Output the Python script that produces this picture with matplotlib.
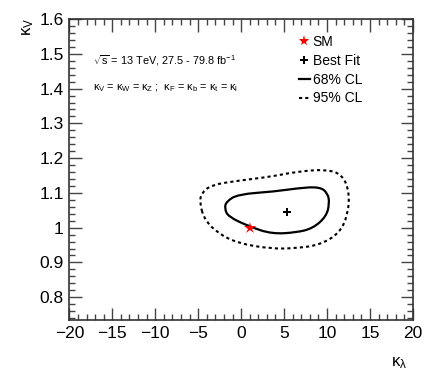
import matplotlib
matplotlib.use("Agg")
import matplotlib.pyplot as plt
from matplotlib.ticker import MultipleLocator
from matplotlib.lines import Line2D
from matplotlib.path import Path
from matplotlib.patches import PathPatch

plt.rcParams['font.family'] = ['Liberation Sans', 'DejaVu Sans']
plt.rcParams['mathtext.fontset'] = 'custom'
plt.rcParams['mathtext.rm'] = 'Liberation Sans'
plt.rcParams['mathtext.it'] = 'Liberation Sans'

# 68% CL contour (kappa_lambda, kappa_V)
cl68_kl = [-1.92, -1.72, -0.37, 3.90, 6.42, 9.13, 10.09, 10.29, 9.91, 8.35, 6.42, 3.55, 0.99, -1.53]
cl68_kv = [1.056, 1.075, 1.096, 1.104, 1.113, 1.118, 1.099, 1.070, 1.032, 0.998, 0.986, 0.982, 1.003, 1.032]

# 95% CL contour
cl95_kl = [-4.83, -4.63, -3.47, -0.37, 3.55, 6.42, 9.91, 11.84, 12.62, 12.42, 11.45, 9.13, 6.42, 3.55,
           -0.37, -2.70, -4.24]
cl95_kv = [1.070, 1.099, 1.123, 1.135, 1.147, 1.161, 1.168, 1.152, 1.099, 1.037, 0.984, 0.950, 0.941,
           0.939, 0.955, 0.984, 1.022]

sm = (1.0, 1.0)
best_fit = (5.4, 1.046)


def closed_curve(xs, ys):
    # smooth closed outline: the read points act as quadratic bezier control points
    pts = list(zip(xs, ys))
    n = len(pts)
    mids = [((pts[i][0] + pts[(i + 1) % n][0]) / 2, (pts[i][1] + pts[(i + 1) % n][1]) / 2) for i in range(n)]
    verts = [mids[-1]]
    codes = [Path.MOVETO]
    for i in range(n):
        verts += [pts[i], mids[i]]
        codes += [Path.CURVE3, Path.CURVE3]
    return Path(verts, codes)


fig = plt.figure(figsize=(4.36, 3.82), dpi=100)
ax = fig.add_axes([0.159, 0.162, 0.788, 0.788])

ax.add_patch(PathPatch(closed_curve(cl95_kl, cl95_kv), fill=False, color='black', lw=1.5, ls=(0, (1.5, 1.5))))
ax.add_patch(PathPatch(closed_curve(cl68_kl, cl68_kv), fill=False, color='black', lw=1.6))
ax.plot(best_fit[0], best_fit[1], marker='P', color='black', ms=6, mew=0)
ax.plot(sm[0], sm[1], marker='*', color='red', ms=9, mew=0)

ax.set_xlim(-20, 20)
ax.set_ylim(0.734, 1.6)
ax.xaxis.set_major_locator(MultipleLocator(5))
ax.xaxis.set_minor_locator(MultipleLocator(1))
ax.yaxis.set_major_locator(MultipleLocator(0.1))
ax.yaxis.set_minor_locator(MultipleLocator(0.02))
ax.tick_params(which='both', direction='in', top=True, right=True, labelsize=12.5, width=1, color='#444444')
ax.tick_params(which='major', length=9, pad=4)
ax.tick_params(which='minor', length=4.5)
ax.set_yticks([0.8, 0.9, 1.0, 1.1, 1.2, 1.3, 1.4, 1.5, 1.6])
ax.set_yticklabels(['0.8', '0.9', '1', '1.1', '1.2', '1.3', '1.4', '1.5', '1.6'])
ax.set_xticks([-20, -15, -10, -5, 0, 5, 10, 15, 20])
ax.set_xticklabels(['\u221220', '\u221215', '\u221210', '\u22125', '0', '5', '10', '15', '20'])
for s in ax.spines.values():
    s.set_color('#333333')
    s.set_linewidth(1.2)

fig.text(0.064, 0.953, r'$\kappa_V$', rotation=90, fontsize=12, ha='center', va='top')
fig.text(0.915, 0.03, r'$\kappa_\lambda$', fontsize=12, ha='center', va='bottom')

ax.text(0.068, 0.862, r'$\sqrt{s}$ = 13 TeV, 27.5 - 79.8 fb$^{-1}$', transform=ax.transAxes, fontsize=7.8,
        va='center')
ax.text(0.068, 0.77, r'$\kappa_V$ = $\kappa_W$ = $\kappa_Z$ ;  $\kappa_F$ = $\kappa_b$ = $\kappa_t$ = $\kappa_l$',
        transform=ax.transAxes, fontsize=7.8, va='center')

handles = [
    Line2D([], [], marker='*', color='red', ls='none', ms=8, mew=0),
    Line2D([], [], marker='P', color='black', ls='none', ms=6, mew=0),
    Line2D([], [], color='black', lw=1.6),
    Line2D([], [], color='black', lw=1.5, ls=(0, (1.5, 1.5))),
]
labels = ['SM', 'Best Fit', '68% CL', '95% CL']
ax.legend(handles, labels, loc='upper left', bbox_to_anchor=(0.64, 0.98), frameon=False, fontsize=10,
          handlelength=0.8, handletextpad=0.2, labelspacing=0.35, borderpad=0.2)

fig.savefig('out.png', dpi=100)
